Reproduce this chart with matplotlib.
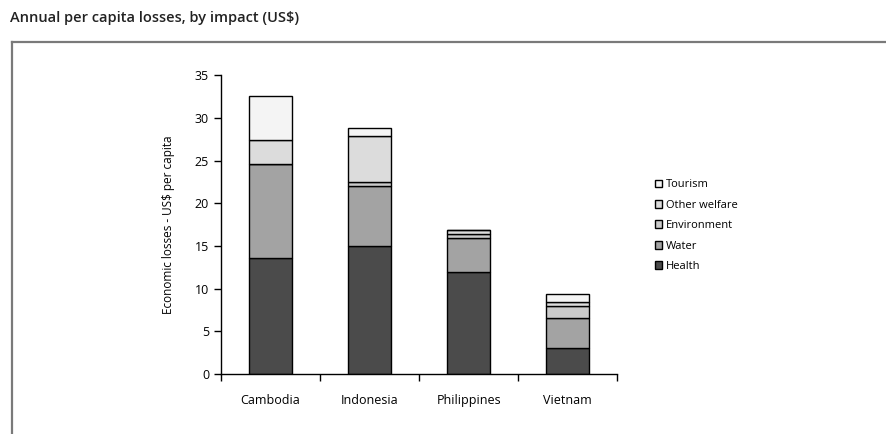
"""Stacked bars of annual per capita losses by impact."""

import matplotlib
matplotlib.use("Agg")
import matplotlib.pyplot as plt
from matplotlib.lines import Line2D
import numpy as np

plt.rcParams["font.family"] = ["Open Sans", "DejaVu Sans"]

countries = ["Cambodia", "Indonesia", "Philippines", "Vietnam"]
impacts = ["Health", "Water", "Environment", "Other welfare", "Tourism"]

# US$ per capita, one list per impact (bottom to top of each bar)
health = [13.6, 15.0, 11.95, 3.1]
water = [10.95, 7.0, 4.0, 3.5]
environment = [0.0, 0.45, 0.45, 1.35]
other_welfare = [2.85, 5.45, 0.45, 0.5]
tourism = [5.15, 0.9, 0.0, 0.9]

series = [health, water, environment, other_welfare, tourism]
colors = ["#4b4b4b", "#a3a3a3", "#cbcbcb", "#dcdcdc", "#f4f4f4"]

fig = plt.figure(figsize=(8.87, 4.34), dpi=100)
ax = fig.add_axes([0.249, 0.138, 0.447, 0.689])

x = np.arange(len(countries))
bottom = np.zeros(len(countries))
handles = []
for name, vals, col in zip(impacts, series, colors):
    bars = ax.bar(x, vals, width=0.43, bottom=bottom, color=col,
                  edgecolor="black", linewidth=1.0, label=name)
    handles.append(bars)
    bottom += np.array(vals)

ax.set_xlim(-0.5, len(countries) - 0.5)
ax.set_ylim(0, 35)
ax.set_yticks(range(0, 36, 5))
ax.set_xticks(x)
ax.set_xticklabels(countries, fontsize=9)
ax.set_xticks(np.arange(-0.5, len(countries)), minor=True)
ax.tick_params(axis="x", which="major", length=0, pad=14)
ax.tick_params(axis="x", which="minor", length=5, direction="out", width=1)
ax.tick_params(axis="y", length=5, direction="out", width=1, labelsize=9)
ax.spines["top"].set_visible(False)
ax.spines["right"].set_visible(False)
for s in ("left", "bottom"):
    ax.spines[s].set_linewidth(1.0)
ax.set_ylabel("Economic losses - US$ per capita", fontsize=8.5, labelpad=14)

leg = fig.legend(handles[::-1], impacts[::-1], loc="upper left",
                 bbox_to_anchor=(0.733, 0.597), frameon=False, fontsize=8,
                 handlelength=0.7, handleheight=0.7, handletextpad=0.3,
                 labelspacing=0.85, borderaxespad=0)

# Panel frame and heading
fig.add_artist(Line2D([0.0135, 1.0], [0.903, 0.903], color="#7a7a7a", lw=1.6))
fig.add_artist(Line2D([0.0135, 0.0135], [0.0, 0.903], color="#7a7a7a", lw=1.6))
fig.text(0.011, 0.958, "Annual per capita losses, by impact (US$)",
         fontsize=10.5, fontweight="semibold", va="center", ha="left", color="#222222")

fig.savefig("out.png", dpi=100)
